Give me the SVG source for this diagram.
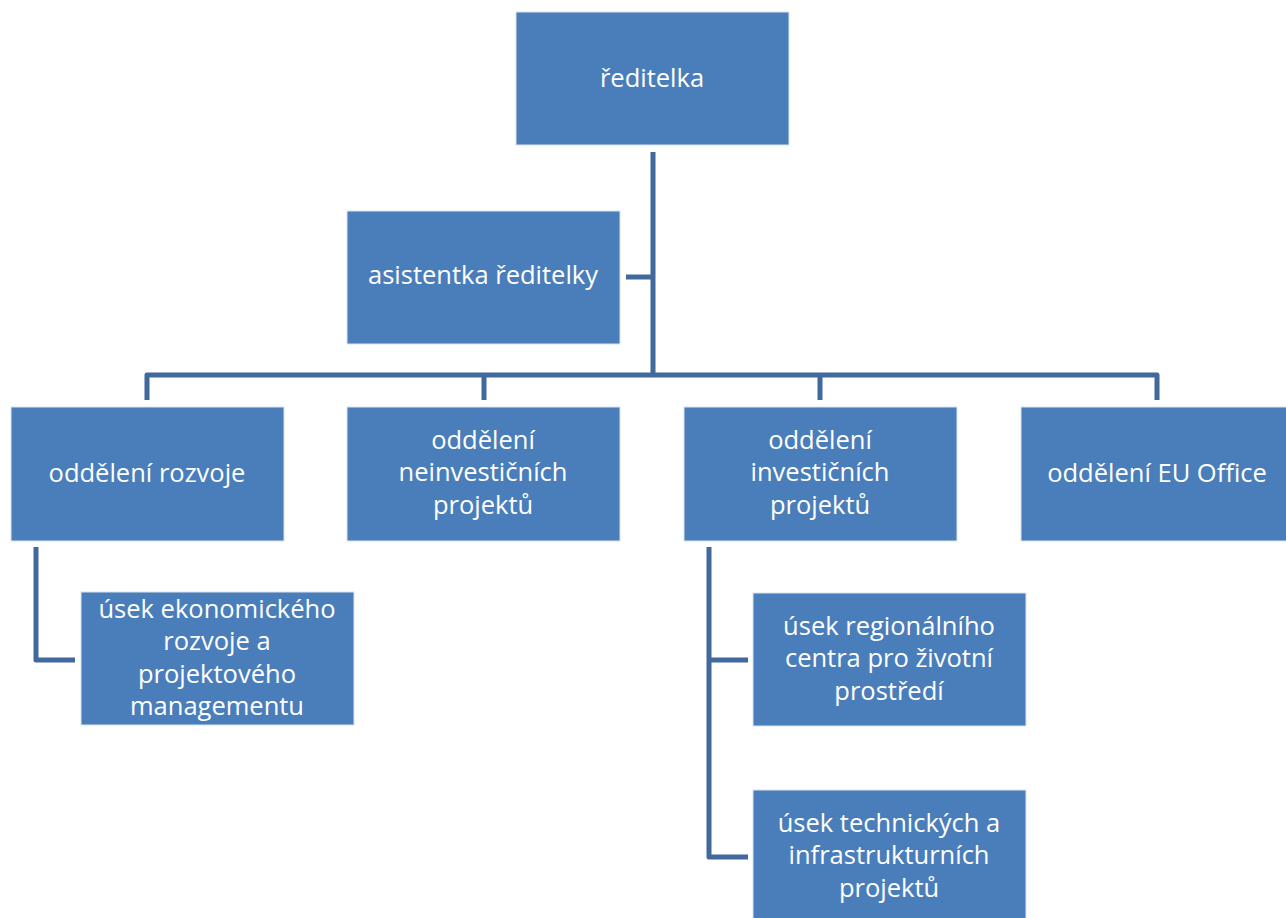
<svg xmlns="http://www.w3.org/2000/svg" width="1286" height="918" viewBox="0 0 1286 918">
<style>
.box{fill:#4a7ebb;stroke:#dbe4f0;stroke-width:1}
.t{font-family:"Open Sans","Liberation Sans",sans-serif;font-size:25.5px;fill:#ffffff;text-anchor:middle}
.c{fill:none;stroke:#41699d;stroke-width:5;stroke-linejoin:round}
</style>
<rect width="1286" height="918" fill="#ffffff"/>
<g id="connectors">
<path class="c" d="M653,152 V375"/>
<path class="c" d="M626,277 H653"/>
<path class="c" d="M147,400 V375 H1157 V400"/>
<path class="c" d="M484,375 V400"/>
<path class="c" d="M820,375 V400"/>
<path class="c" d="M36,547 V660 H75"/>
<path class="c" d="M709,547 V857 H748"/>
<path class="c" d="M709,660 H748"/>
</g>
<g id="reditelka"><rect class="box" x="516" y="12" width="273" height="133"/><text class="t" x="652" y="87">ředitelka</text></g>
<g id="asistentka"><rect class="box" x="347" y="211" width="273" height="133"/><text class="t" x="483" y="284">asistentka ředitelky</text></g>
<g id="rozvoj"><rect class="box" x="11" y="407" width="273" height="134"/><text class="t" x="147" y="482">oddělení rozvoje</text></g>
<g id="neinvesticni"><rect class="box" x="347" y="407" width="273" height="134"/><text class="t"><tspan x="483" y="449">oddělení</tspan><tspan x="483" y="481">neinvestičních</tspan><tspan x="483" y="514">projektů</tspan></text></g>
<g id="investicni"><rect class="box" x="684" y="407" width="273" height="134"/><text class="t"><tspan x="820" y="449">oddělení</tspan><tspan x="820" y="481">investičních</tspan><tspan x="820" y="514">projektů</tspan></text></g>
<g id="euoffice"><rect class="box" x="1021" y="407" width="273" height="134"/><text class="t" x="1157" y="482">oddělení EU Office</text></g>
<g id="ekonomicky"><rect class="box" x="81" y="592" width="273" height="133"/><text class="t"><tspan x="217" y="618">úsek ekonomického</tspan><tspan x="217" y="650">rozvoje a</tspan><tspan x="217" y="683">projektového</tspan><tspan x="217" y="715">managementu</tspan></text></g>
<g id="regionalni"><rect class="box" x="753" y="593" width="273" height="133"/><text class="t"><tspan x="889" y="635">úsek regionálního</tspan><tspan x="889" y="667">centra pro životní</tspan><tspan x="889" y="700">prostředí</tspan></text></g>
<g id="technicky"><rect class="box" x="753" y="790" width="273" height="133"/><text class="t"><tspan x="889" y="832">úsek technických a</tspan><tspan x="889" y="864">infrastrukturních</tspan><tspan x="889" y="897">projektů</tspan></text></g>
</svg>
